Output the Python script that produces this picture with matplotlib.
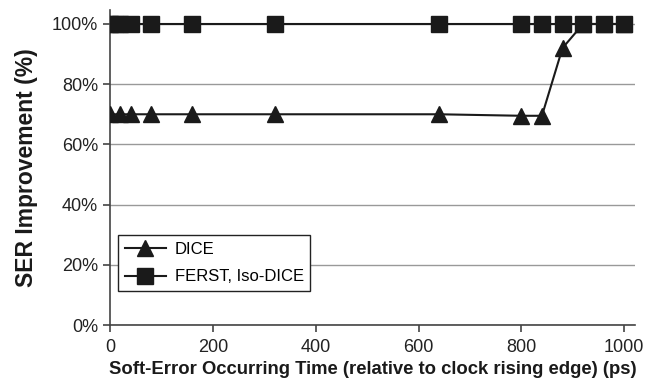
import numpy as np
import matplotlib.pyplot as plt

plt.rcParams['font.family'] = ['Liberation Sans', 'DejaVu Sans']

# Soft-error occurring time (ps) and SER improvement (%)
t_dice = [0, 20, 40, 80, 160, 320, 640, 800, 840, 880, 920, 960, 1000]
ser_dice = [70, 70, 70, 70, 70, 70, 70, 69.5, 69.5, 92, 100, 100, 100]

t_ferst = [0, 10, 20, 40, 80, 160, 320, 640, 800, 840, 880, 920, 960, 1000]
ser_ferst = [100] * len(t_ferst)

fig = plt.figure(figsize=(6.56, 3.89), dpi=100)
ax = fig.add_axes([0.1677, 0.1645, 0.8003, 0.8095])

ax.plot(t_dice, ser_dice, color='#1a1a1a', lw=1.5, marker='^', ms=11,
        label='DICE', zorder=3)
ax.plot(t_ferst, ser_ferst, color='#1a1a1a', lw=1.5, marker='s', ms=11,
        label='FERST, Iso-DICE', zorder=4)

ax.set_xlim(0, 1021)
ax.set_ylim(0, 104.6)
ax.set_xticks([0, 200, 400, 600, 800, 1000])
ax.set_yticks([0, 20, 40, 60, 80, 100])
ax.set_yticklabels([f'{v}%' for v in [0, 20, 40, 60, 80, 100]])
ax.yaxis.grid(True, color='#999999', lw=1)
ax.set_axisbelow(True)

for s in ['top', 'right']:
    ax.spines[s].set_visible(False)
for s in ['left', 'bottom']:
    ax.spines[s].set_color('#444444')
    ax.spines[s].set_linewidth(1.2)
ax.tick_params(colors='#444444', labelcolor='#222222', labelsize=13,
               length=5, width=1.2)
ax.tick_params(axis='x', pad=5)

ax.set_xlabel('Soft-Error Occurring Time (relative to clock rising edge) (ps)',
              fontsize=13.3, fontweight='bold', labelpad=4, color='#1a1a1a')
ax.set_ylabel('SER Improvement (%)', fontsize=16.5, fontweight='bold',
              labelpad=10, color='#1a1a1a')

leg = ax.legend(loc='lower left', bbox_to_anchor=(0.015, 0.108), fontsize=12,
                fancybox=False, framealpha=1, edgecolor='#222222',
                borderaxespad=0, handlelength=2.5, handletextpad=0.5,
                borderpad=0.4, labelspacing=0.75)
leg.get_frame().set_linewidth(1.0)

fig.savefig('out.png', dpi=100)
